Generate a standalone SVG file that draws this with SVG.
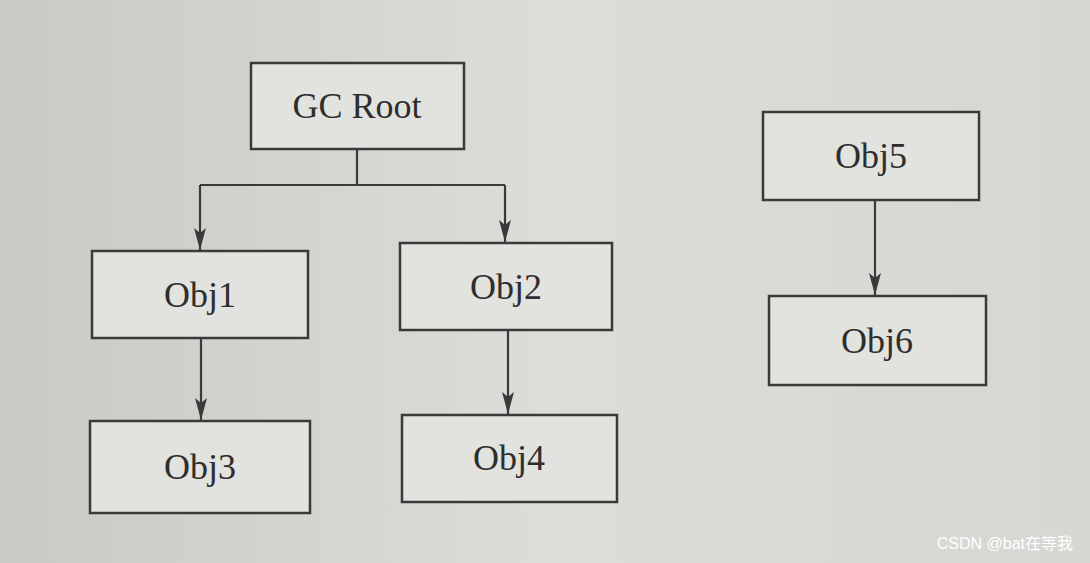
<svg xmlns="http://www.w3.org/2000/svg" width="1090" height="563" viewBox="0 0 1090 563">
<style>
.box{fill:#e2e2df;stroke:#3a3a3a;stroke-width:2.5}
.lbl{font-family:"Liberation Serif",serif;font-size:36px;fill:#2e2e2e;text-anchor:middle;dominant-baseline:central}
.ln{fill:none;stroke:#3a3a3a;stroke-width:2.2}
</style>
<defs>
<linearGradient id="bg" x1="0" y1="0" x2="1" y2="0">
<stop offset="0" stop-color="#c9c9c6"/><stop offset="0.5" stop-color="#dcdcd9"/><stop offset="1" stop-color="#d6d6d3"/>
</linearGradient>
<marker id="ar" markerWidth="22" markerHeight="12" refX="22" refY="6" orient="auto" markerUnits="userSpaceOnUse" viewBox="0 0 22 12">
<path d="M0,0 L22,6 L0,12 L5,6 z" fill="#3a3a3a"/>
</marker>
</defs>
<rect width="1090" height="563" fill="url(#bg)"/>
<g id="connectors">
<path class="ln" d="M357,149 V185 M200,185 H505"/>
<path class="ln" d="M200,185 V250" marker-end="url(#ar)"/>
<path class="ln" d="M505,185 V242" marker-end="url(#ar)"/>
<path class="ln" d="M201,338 V420" marker-end="url(#ar)"/>
<path class="ln" d="M508,330 V414" marker-end="url(#ar)"/>
<path class="ln" d="M875,200 V295" marker-end="url(#ar)"/>
</g>
<g id="gcroot"><rect class="box" x="251" y="63" width="213" height="86"/><text class="lbl" x="357" y="106">GC Root</text></g>
<g id="obj1"><rect class="box" x="92" y="251" width="216" height="87"/><text class="lbl" x="200" y="295">Obj1</text></g>
<g id="obj2"><rect class="box" x="400" y="243" width="212" height="87"/><text class="lbl" x="506" y="287">Obj2</text></g>
<g id="obj3"><rect class="box" x="90" y="421" width="220" height="92"/><text class="lbl" x="200" y="467">Obj3</text></g>
<g id="obj4"><rect class="box" x="402" y="415" width="215" height="87"/><text class="lbl" x="509" y="458">Obj4</text></g>
<g id="obj5"><rect class="box" x="763" y="112" width="216" height="88"/><text class="lbl" x="871" y="156">Obj5</text></g>
<g id="obj6"><rect class="box" x="769" y="296" width="217" height="89"/><text class="lbl" x="877" y="341">Obj6</text></g>
<text x="1073" y="549" font-family="'Liberation Sans','Noto Sans CJK SC',sans-serif" font-size="16" fill="#ffffff" text-anchor="end">CSDN @bat在等我</text>
</svg>
